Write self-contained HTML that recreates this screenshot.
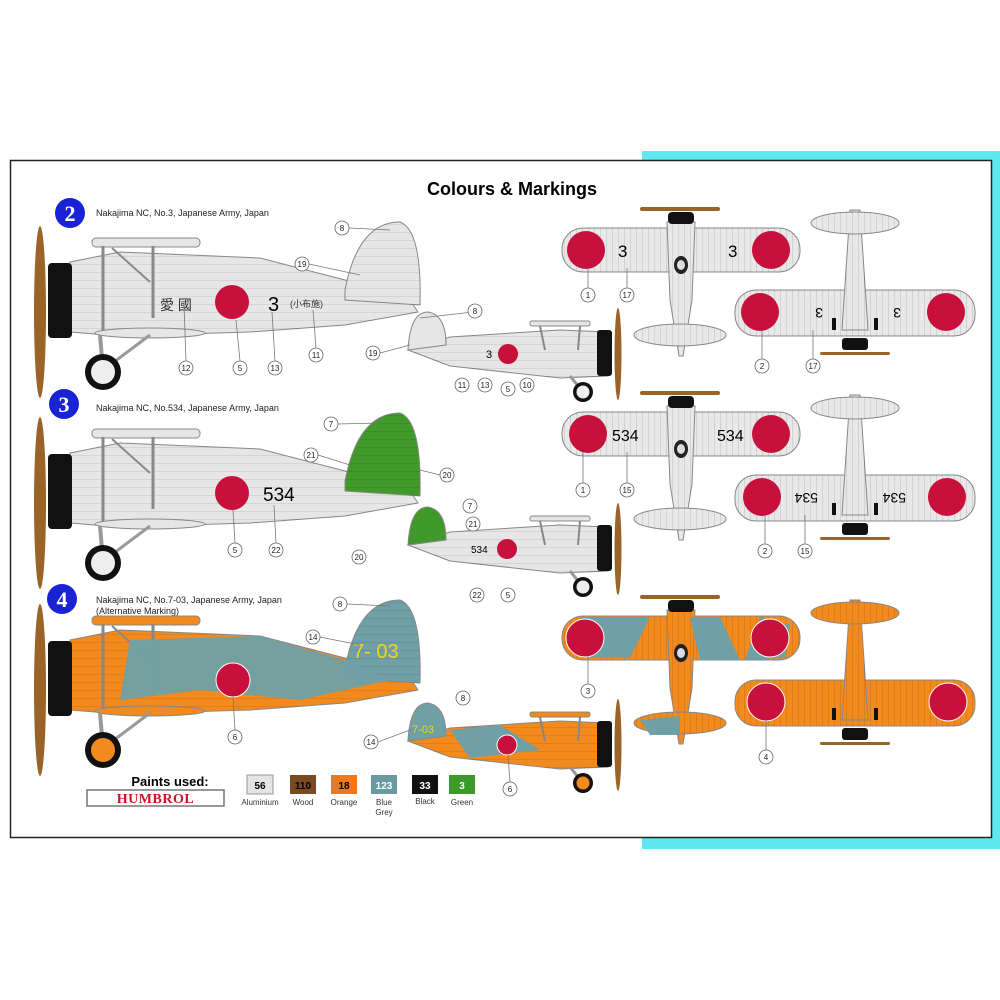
<!DOCTYPE html>
<html><head><meta charset="utf-8"><style>
html,body{margin:0;padding:0;background:#fff}
svg{display:block}
text{font-family:"Liberation Sans","Noto Sans CJK JP",sans-serif}
text.serif{font-family:"Liberation Serif",serif}
</style></head><body>
<svg width="1000" height="1000" viewBox="0 0 1000 1000" xmlns="http://www.w3.org/2000/svg">
<defs>
<pattern id="st" width="6" height="6" patternUnits="userSpaceOnUse"><line x1="0" y1="0" x2="0" y2="6" stroke="#000" stroke-opacity=".18" stroke-width="1"/></pattern>
<pattern id="sh" width="8" height="8" patternUnits="userSpaceOnUse"><line x1="0" y1="0" x2="8" y2="0" stroke="#000" stroke-opacity=".15" stroke-width="1"/></pattern>
<g id="sideL">
 <path d="M70,262 L120,252 L260,258 L345,280 L410,300 L418,312 L345,325 L250,332 L120,336 L70,332 Z" style="fill:var(--b)" stroke="#888" stroke-width="1"/>
 <path d="M70,262 L120,252 L260,258 L345,280 L410,300 L418,312 L345,325 L250,332 L120,336 L70,332 Z" fill="url(#sh)"/>
 <path d="M345,290 Q358,222 400,222 Q422,230 420,305 L345,300 Z" style="fill:var(--t)" stroke="#888"/>
 <path d="M345,290 Q358,222 400,222 Q422,230 420,305 L345,300 Z" fill="url(#sh)"/>
 <rect x="92" y="238" width="108" height="9" rx="4" style="fill:var(--b)" stroke="#888"/>
 <ellipse cx="150" cy="333" rx="55" ry="5" style="fill:var(--b)" stroke="#888"/>
 <line x1="103" y1="246" x2="103" y2="330" stroke="#888" stroke-width="3"/>
 <line x1="153" y1="246" x2="153" y2="318" stroke="#888" stroke-width="3"/>
 <line x1="112" y1="248" x2="150" y2="282" stroke="#888" stroke-width="2"/>
 <line x1="100" y1="335" x2="103" y2="370" stroke="#999" stroke-width="4"/>
 <line x1="150" y1="335" x2="110" y2="365" stroke="#999" stroke-width="3"/>
 <rect x="48" y="263" width="24" height="75" rx="4" fill="#111"/>
 <ellipse cx="40" cy="312" rx="6" ry="86" fill="#9a6428"/>
 <circle cx="103" cy="372" r="18" fill="#111"/>
 <circle cx="103" cy="372" r="12" style="fill:var(--w)"/>
</g>
<g id="sideS">
 <path d="M408,350 L450,337 L560,330 L608,332 L608,376 L560,378 L450,366 Z" style="fill:var(--b)" stroke="#888"/>
 <path d="M408,350 L450,337 L560,330 L608,332 L608,376 L560,378 L450,366 Z" fill="url(#sh)"/>
 <path d="M408,350 Q410,312 428,312 Q446,315 446,345 Z" style="fill:var(--t)" stroke="#888"/>
 <rect x="530" y="321" width="60" height="5" rx="2" style="fill:var(--b)" stroke="#888"/>
 <line x1="540" y1="326" x2="545" y2="350" stroke="#888" stroke-width="2"/>
 <line x1="580" y1="326" x2="578" y2="350" stroke="#888" stroke-width="2"/>
 <line x1="570" y1="376" x2="583" y2="392" stroke="#999" stroke-width="3"/>
 <rect x="597" y="330" width="15" height="46" rx="3" fill="#111"/>
 <ellipse cx="618" cy="354" rx="3.5" ry="46" fill="#9a6428"/>
 <circle cx="583" cy="392" r="10" fill="#111"/>
 <circle cx="583" cy="392" r="6.5" style="fill:var(--w)"/>
</g>
<g id="top">
 <rect x="562" y="228" width="238" height="44" rx="21" style="fill:var(--b)" stroke="#888"/>
 <rect x="562" y="228" width="238" height="44" rx="21" fill="url(#st)"/>
 <path d="M667,222 L695,222 L692,300 L683,356 L679,356 L670,300 Z" style="fill:var(--b)" stroke="#888"/>
 <path d="M667,222 L695,222 L692,300 L683,356 L679,356 L670,300 Z" fill="url(#st)"/>
 <ellipse cx="680" cy="335" rx="46" ry="11" style="fill:var(--b)" stroke="#888"/>
 <ellipse cx="680" cy="335" rx="46" ry="11" fill="url(#st)"/>
 <rect x="668" y="212" width="26" height="12" rx="4" fill="#111"/>
 <rect x="640" y="207" width="80" height="4" rx="2" fill="#9a6428"/>
 <ellipse cx="681" cy="265" rx="7" ry="9" fill="#222"/>
 <ellipse cx="681" cy="265" rx="4" ry="5" fill="#ddd"/>
</g>
<g id="bot">
 <rect x="735" y="290" width="240" height="46" rx="21" style="fill:var(--b)" stroke="#888"/>
 <rect x="735" y="290" width="240" height="46" rx="21" fill="url(#st)"/>
 <path d="M850,210 L860,210 L868,330 L842,330 Z" style="fill:var(--b)" stroke="#888"/>
 <path d="M850,210 L860,210 L868,330 L842,330 Z" fill="url(#st)"/>
 <ellipse cx="855" cy="223" rx="44" ry="11" style="fill:var(--b)" stroke="#888"/>
 <ellipse cx="855" cy="223" rx="44" ry="11" fill="url(#st)"/>
 <rect x="842" y="338" width="26" height="12" rx="3" fill="#111"/>
 <rect x="820" y="352" width="70" height="3" rx="1.5" fill="#9a6428"/>
 <rect x="832" y="318" width="4" height="12" fill="#111"/><rect x="874" y="318" width="4" height="12" fill="#111"/>
</g>
</defs>

<rect x="642" y="151" width="358" height="10" fill="#5ee8f0"/>
<rect x="992" y="151" width="8" height="698" fill="#5ee8f0"/>
<rect x="642" y="838" width="358" height="11" fill="#5ee8f0"/>
<rect x="10.5" y="160.5" width="981" height="677" fill="#fff" stroke="#222" stroke-width="1.5"/>

<text x="512" y="195" font-size="18" font-weight="bold" text-anchor="middle">Colours &amp; Markings</text>

<g font-weight="bold" font-size="22" fill="#fff" text-anchor="middle">
<circle cx="70" cy="213" r="15" fill="#1a22d6"/><text class="serif" x="70" y="221">2</text>
<circle cx="64" cy="404" r="15" fill="#1a22d6"/><text class="serif" x="64" y="412">3</text>
<circle cx="62" cy="599" r="15" fill="#1a22d6"/><text class="serif" x="62" y="607">4</text>
</g>
<g font-size="9" fill="#222">
<text x="96" y="216">Nakajima NC, No.3, Japanese Army, Japan</text>
<text x="96" y="411">Nakajima NC, No.534, Japanese Army, Japan</text>
<text x="96" y="603">Nakajima NC, No.7-03, Japanese Army, Japan</text>
<text x="96" y="614">(Alternative Marking)</text>
</g>

<use href="#sideL" style="--b:#e6e6e6;--t:#e6e6e6;--w:#eee"/>
<circle cx="232" cy="302" r="17" fill="#c8103c"/>
<text x="268" y="311" font-size="20">3</text>
<text x="160" y="310" font-size="14" fill="#333">愛 國</text>
<text x="290" y="307" font-size="9" fill="#333">(小布施)</text>
<use href="#sideS" style="--b:#e6e6e6;--t:#e6e6e6;--w:#eee"/>
<circle cx="508" cy="354" r="10" fill="#c8103c"/>
<text x="486" y="358" font-size="11">3</text>
<use href="#top" style="--b:#e8e8e8"/>
<circle cx="586" cy="250" r="19" fill="#c8103c"/><circle cx="771" cy="250" r="19" fill="#c8103c"/>
<text x="618" y="257" font-size="17">3</text><text x="728" y="257" font-size="17">3</text>
<use href="#bot" style="--b:#e8e8e8"/>
<circle cx="760" cy="312" r="19" fill="#c8103c"/><circle cx="946" cy="312" r="19" fill="#c8103c"/>
<text x="813" y="318" font-size="14" transform="rotate(180 818 313)">3</text><text x="891" y="318" font-size="14" transform="rotate(180 896 313)">3</text>

<g transform="translate(0,191)"><use href="#sideL" style="--b:#e6e6e6;--t:#3f9a2a;--w:#eee"/></g>
<circle cx="232" cy="493" r="17" fill="#c8103c"/>
<text x="263" y="501" font-size="19">534</text>
<g transform="translate(0,195)"><use href="#sideS" style="--b:#e6e6e6;--t:#3f9a2a;--w:#eee"/></g>
<circle cx="507" cy="549" r="10" fill="#c8103c"/>
<text x="471" y="553" font-size="10">534</text>
<g transform="translate(0,184)"><use href="#top" style="--b:#e8e8e8"/></g>
<circle cx="588" cy="434" r="19" fill="#c8103c"/><circle cx="771" cy="434" r="19" fill="#c8103c"/>
<text x="612" y="441" font-size="16">534</text><text x="717" y="441" font-size="16">534</text>
<g transform="translate(0,185)"><use href="#bot" style="--b:#e8e8e8"/></g>
<circle cx="762" cy="497" r="19" fill="#c8103c"/><circle cx="947" cy="497" r="19" fill="#c8103c"/>
<text x="792" y="503" font-size="14" transform="rotate(180 805 498)">534</text><text x="880" y="503" font-size="14" transform="rotate(180 893 498)">534</text>

<g transform="translate(0,378)"><use href="#sideL" style="--b:#f28a1e;--t:#6fa0a6;--w:#f28a1e"/></g>
<path d="M130,640 L260,636 L345,660 L390,680 L300,700 L200,690 L120,700 Z" fill="#6fa0a6" opacity=".95"/>
<circle cx="233" cy="680" r="17" fill="#c8103c" stroke="#fff"/>
<text x="353" y="658" font-size="20" fill="#f4d21e">7- 03</text>
<g transform="translate(0,391)"><use href="#sideS" style="--b:#f28a1e;--t:#6fa0a6;--w:#f28a1e"/></g>
<path d="M450,730 L500,725 L540,750 L470,758 Z" fill="#6fa0a6"/>
<circle cx="507" cy="745" r="10" fill="#c8103c" stroke="#fff"/>
<text x="412" y="733" font-size="11" fill="#f4d21e">7-03</text>
<g transform="translate(0,388)"><use href="#top" style="--b:#f28a1e"/></g>
<path d="M580,617 L650,617 L630,658 L590,658 Z M690,617 L720,617 L740,660 L700,660 Z M760,617 L790,625 L785,658 L745,660 Z" fill="#6fa0a6"/>
<path d="M640,720 L680,716 L680,735 L650,735 Z" fill="#6fa0a6"/>
<circle cx="585" cy="638" r="19" fill="#c8103c" stroke="#fff"/><circle cx="770" cy="638" r="19" fill="#c8103c" stroke="#fff"/>
<g transform="translate(0,390)"><use href="#bot" style="--b:#f28a1e"/></g>
<circle cx="766" cy="702" r="19" fill="#c8103c" stroke="#fff"/><circle cx="948" cy="702" r="19" fill="#c8103c" stroke="#fff"/>

<g stroke="#777" stroke-width="0.8" fill="none">
<line x1="349" y1="228" x2="390" y2="230"/><line x1="309" y1="264" x2="360" y2="275"/>
<line x1="186" y1="361" x2="184" y2="305"/><line x1="240" y1="361" x2="236" y2="320"/><line x1="275" y1="361" x2="272" y2="312"/><line x1="316" y1="348" x2="313" y2="310"/>
<line x1="482" y1="311" x2="420" y2="318"/><line x1="380" y1="353" x2="410" y2="345"/>
<line x1="588" y1="288" x2="588" y2="268"/><line x1="627" y1="288" x2="627" y2="268"/>
<line x1="762" y1="359" x2="762" y2="330"/><line x1="813" y1="359" x2="813" y2="330"/>
<line x1="338" y1="424" x2="380" y2="423"/><line x1="318" y1="455" x2="350" y2="465"/><line x1="440" y1="475" x2="420" y2="470"/>
<line x1="235" y1="543" x2="233" y2="510"/><line x1="276" y1="543" x2="274" y2="505"/>
<line x1="583" y1="483" x2="583" y2="452"/><line x1="627" y1="483" x2="627" y2="452"/>
<line x1="765" y1="544" x2="765" y2="515"/><line x1="805" y1="544" x2="805" y2="515"/>
<line x1="347" y1="604" x2="390" y2="606"/><line x1="320" y1="637" x2="360" y2="645"/><line x1="235" y1="730" x2="233" y2="697"/>
<line x1="588" y1="684" x2="588" y2="656"/><line x1="766" y1="750" x2="766" y2="720"/>
<line x1="510" y1="782" x2="508" y2="755"/><line x1="378" y1="742" x2="410" y2="730"/>
</g>
<g font-size="8" text-anchor="middle" fill="#222">
<g fill="#fff" stroke="#666" stroke-width="0.8">
<circle cx="342" cy="228" r="7"/><circle cx="302" cy="264" r="7"/><circle cx="186" cy="368" r="7"/><circle cx="240" cy="368" r="7"/><circle cx="275" cy="368" r="7"/><circle cx="316" cy="355" r="7"/>
<circle cx="475" cy="311" r="7"/><circle cx="373" cy="353" r="7"/><circle cx="462" cy="385" r="7"/><circle cx="485" cy="385" r="7"/><circle cx="508" cy="389" r="7"/><circle cx="527" cy="385" r="7"/>
<circle cx="588" cy="295" r="7"/><circle cx="627" cy="295" r="7"/><circle cx="762" cy="366" r="7"/><circle cx="813" cy="366" r="7"/>
<circle cx="331" cy="424" r="7"/><circle cx="311" cy="455" r="7"/><circle cx="447" cy="475" r="7"/><circle cx="235" cy="550" r="7"/><circle cx="276" cy="550" r="7"/>
<circle cx="470" cy="506" r="7"/><circle cx="473" cy="524" r="7"/><circle cx="359" cy="557" r="7"/><circle cx="477" cy="595" r="7"/><circle cx="508" cy="595" r="7"/>
<circle cx="583" cy="490" r="7"/><circle cx="627" cy="490" r="7"/><circle cx="765" cy="551" r="7"/><circle cx="805" cy="551" r="7"/>
<circle cx="340" cy="604" r="7"/><circle cx="313" cy="637" r="7"/><circle cx="235" cy="737" r="7"/>
<circle cx="463" cy="698" r="7"/><circle cx="371" cy="742" r="7"/><circle cx="510" cy="789" r="7"/>
<circle cx="588" cy="691" r="7"/><circle cx="766" cy="757" r="7"/>
</g>
<text x="342" y="231">8</text><text x="302" y="267">19</text><text x="186" y="371">12</text><text x="240" y="371">5</text><text x="275" y="371">13</text><text x="316" y="358">11</text>
<text x="475" y="314">8</text><text x="373" y="356">19</text><text x="462" y="388">11</text><text x="485" y="388">13</text><text x="508" y="392">5</text><text x="527" y="388">10</text>
<text x="588" y="298">1</text><text x="627" y="298">17</text><text x="762" y="369">2</text><text x="813" y="369">17</text>
<text x="331" y="427">7</text><text x="311" y="458">21</text><text x="447" y="478">20</text><text x="235" y="553">5</text><text x="276" y="553">22</text>
<text x="470" y="509">7</text><text x="473" y="527">21</text><text x="359" y="560">20</text><text x="477" y="598">22</text><text x="508" y="598">5</text>
<text x="583" y="493">1</text><text x="627" y="493">15</text><text x="765" y="554">2</text><text x="805" y="554">15</text>
<text x="340" y="607">8</text><text x="313" y="640">14</text><text x="235" y="740">6</text>
<text x="463" y="701">8</text><text x="371" y="745">14</text><text x="510" y="792">6</text>
<text x="588" y="694">3</text><text x="766" y="760">4</text>
</g>

<text x="170" y="786" font-size="13" font-weight="bold" text-anchor="middle">Paints used:</text>
<rect x="87" y="790" width="137" height="16" fill="#fff" stroke="#777" stroke-width="1.5"/>
<text class="serif" x="155.5" y="803" font-size="14" font-weight="bold" fill="#d0102a" text-anchor="middle" letter-spacing="0.5">HUMBROL</text>
<g font-size="10" font-weight="bold" text-anchor="middle">
<rect x="247" y="775" width="26" height="19" fill="#e4e4e4" stroke="#999"/><text x="260" y="789">56</text>
<rect x="290" y="775" width="26" height="19" fill="#7a4a22"/><text x="303" y="789">110</text>
<rect x="331" y="775" width="26" height="19" fill="#f07818"/><text x="344" y="789">18</text>
<rect x="371" y="775" width="26" height="19" fill="#6b9aa2"/><text x="384" y="789" fill="#fff">123</text>
<rect x="412" y="775" width="26" height="19" fill="#111"/><text x="425" y="789" fill="#fff">33</text>
<rect x="449" y="775" width="26" height="19" fill="#3d9a2a"/><text x="462" y="789" fill="#fff">3</text>
</g>
<g font-size="8" text-anchor="middle" fill="#333">
<text x="260" y="805">Aluminium</text><text x="303" y="805">Wood</text><text x="344" y="805">Orange</text>
<text x="384" y="805">Blue</text><text x="384" y="815">Grey</text><text x="425" y="804">Black</text><text x="462" y="805">Green</text>
</g>
</svg>
</body></html>
